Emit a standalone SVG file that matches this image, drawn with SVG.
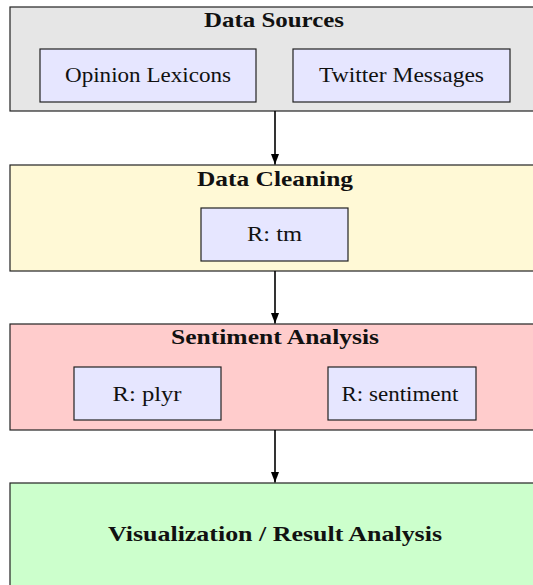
<svg xmlns="http://www.w3.org/2000/svg" width="533" height="585" viewBox="0 0 533 585">
  <style>
    .stage { stroke: #222; stroke-width: 1.2; }
    .tool { fill: #e6e6ff; stroke: #222; stroke-width: 1.2; }
    .title { font-family: "Liberation Serif", "DejaVu Serif", serif; font-size: 21px; font-weight: bold; fill: #111; text-anchor: middle; }
    .label { font-family: "Liberation Serif", "DejaVu Serif", serif; font-size: 21px; fill: #111; text-anchor: middle; }
    .flow { stroke: #000; stroke-width: 1.6; fill: none; }
  </style>
  <defs>
    <marker id="arrow" markerUnits="userSpaceOnUse" markerWidth="11" markerHeight="9" refX="10.5" refY="4" orient="auto">
      <path d="M0,0 L10.5,4 L0,8 z" fill="#000"/>
    </marker>
  </defs>

  <rect width="533" height="585" fill="#ffffff"/>

  <!-- Stage 1: data sources -->
  <g id="data-sources">
    <rect class="stage" x="10" y="7" width="530" height="104" fill="#e6e6e6"/>
    <text class="title" x="274" y="27" textLength="140" lengthAdjust="spacingAndGlyphs">Data Sources</text>
  </g>
  <g id="opinion-lexicons">
    <rect class="tool" x="40" y="49" width="216" height="53"/>
    <text class="label" x="148" y="82" textLength="166" lengthAdjust="spacingAndGlyphs">Opinion Lexicons</text>
  </g>
  <g id="twitter-messages">
    <rect class="tool" x="293" y="49" width="217" height="53"/>
    <text class="label" x="401.5" y="82" textLength="165" lengthAdjust="spacingAndGlyphs">Twitter Messages</text>
  </g>

  <!-- Stage 2: cleaning -->
  <g id="data-cleaning">
    <rect class="stage" x="10" y="165" width="530" height="106" fill="#fff9d6"/>
    <text class="title" x="275" y="185.5" textLength="156" lengthAdjust="spacingAndGlyphs">Data Cleaning</text>
  </g>
  <g id="r-tm">
    <rect class="tool" x="201" y="208" width="147" height="53"/>
    <text class="label" x="274.5" y="241" textLength="55" lengthAdjust="spacingAndGlyphs">R: tm</text>
  </g>

  <!-- Stage 3: sentiment analysis -->
  <g id="sentiment-analysis">
    <rect class="stage" x="10" y="324" width="530" height="106" fill="#ffcccc"/>
    <text class="title" x="275" y="344" textLength="208" lengthAdjust="spacingAndGlyphs">Sentiment Analysis</text>
  </g>
  <g id="r-plyr">
    <rect class="tool" x="74" y="367" width="147" height="53"/>
    <text class="label" x="147" y="401" textLength="69" lengthAdjust="spacingAndGlyphs">R: plyr</text>
  </g>
  <g id="r-sentiment">
    <rect class="tool" x="328" y="367" width="148" height="53"/>
    <text class="label" x="400" y="401" textLength="117" lengthAdjust="spacingAndGlyphs">R: sentiment</text>
  </g>

  <!-- Stage 4: results -->
  <g id="visualization">
    <rect class="stage" x="10" y="483" width="530" height="110" fill="#ccffcc"/>
    <text class="title" x="275" y="541" textLength="334" lengthAdjust="spacingAndGlyphs">Visualization / Result Analysis</text>
  </g>

  <!-- Connectors between stages -->
  <g id="connectors">
    <line class="flow" x1="275" y1="111" x2="275" y2="164.5" marker-end="url(#arrow)"/>
    <line class="flow" x1="275" y1="271" x2="275" y2="323.5" marker-end="url(#arrow)"/>
    <line class="flow" x1="275" y1="430" x2="275" y2="482.5" marker-end="url(#arrow)"/>
  </g>
</svg>
